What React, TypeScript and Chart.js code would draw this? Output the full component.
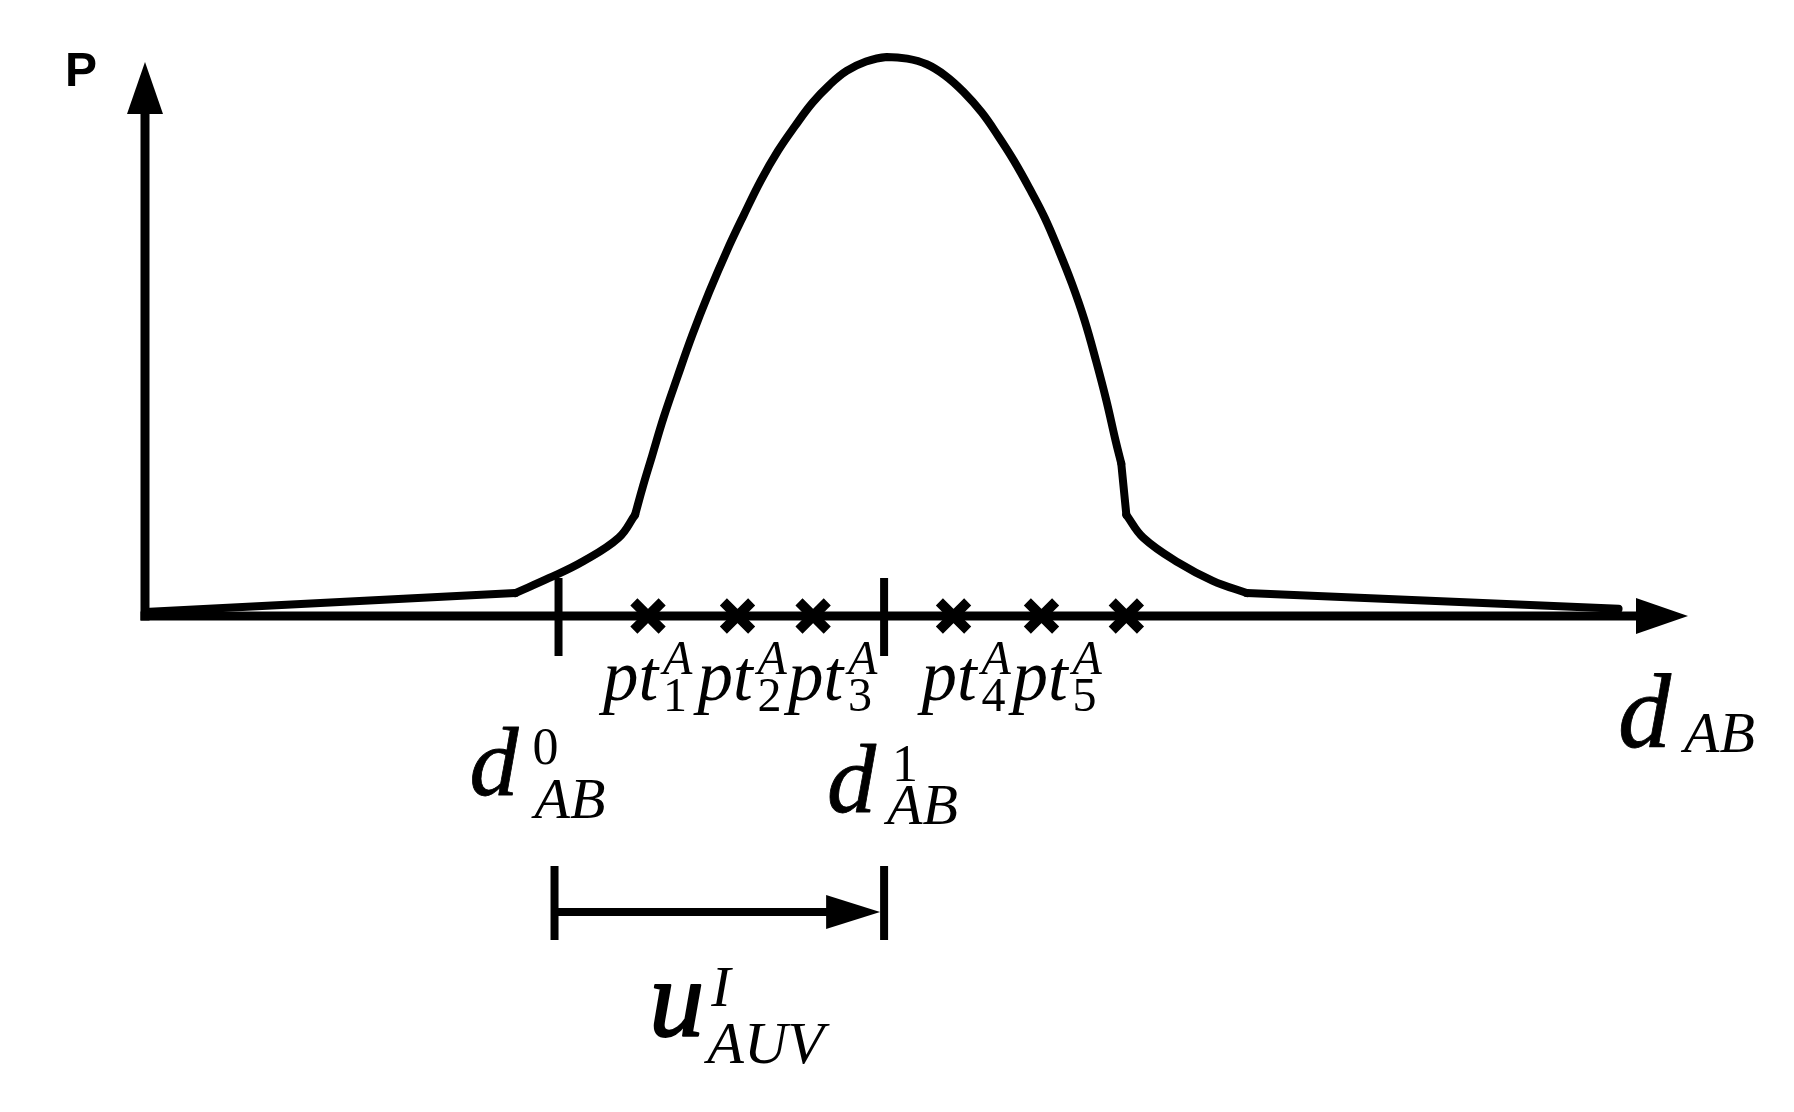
import React, { useEffect, useRef } from "react";
import { Chart, registerables } from "chart.js";

Chart.register(...registerables);

// distance d_AB (arbitrary units, axis origin = 0, arrow tip = 100)
const curveX = [0, 24.0, 26.2, 28.4, 30.7, 31.76, 32.27, 32.87, 33.61, 34.5, 35.46, 36.57, 37.69, 38.8, 39.91, 41.02, 42.14, 43.25, 44.36, 45.47, 46.73, 48.07, 49.4, 50.66, 51.85, 53.03, 54.22, 55.26, 56.3, 57.34, 58.3, 59.19, 60.08, 60.89, 61.63, 62.3, 62.9, 63.27, 63.6, 64.7, 67.0, 69.2, 71.4, 95.5];
// probability P (normalised, peak = 1)
const curveP = [0.007, 0.041, 0.068, 0.098, 0.14, 0.181, 0.232, 0.287, 0.355, 0.427, 0.502, 0.58, 0.652, 0.717, 0.779, 0.832, 0.877, 0.918, 0.95, 0.975, 0.992, 1.0, 0.997, 0.987, 0.967, 0.938, 0.901, 0.86, 0.815, 0.764, 0.713, 0.656, 0.594, 0.529, 0.457, 0.386, 0.314, 0.273, 0.181, 0.14, 0.095, 0.063, 0.041, 0.013];
// pieces of the curve: [first index, last index, tension]
const curvePieces = [
  [0, 1, 0],
  [1, 5, 0.4],
  [5, 37, 0.4],
  [37, 38, 0],
  [38, 42, 0.4],
  [42, 43, 0],
];
// sample points pt^A along d_AB
const sampleX = [32.6, 38.4, 43.3, 52.4, 58.1, 63.6];
const sampleLabels = ["1", "2", "3", "4", "5"];
// thresholds d^0_AB and d^1_AB
const thresholdX = [26.8, 47.9];
const thresholdLabels = ["0", "1"];

const BLACK = "#000000";
const SERIF = '"Liberation Serif", "Times New Roman", serif';

function arrowHead(ctx: CanvasRenderingContext2D, tx: number, ty: number, dir: "up" | "right", len: number, half: number) {
  ctx.beginPath();
  if (dir === "up") {
    ctx.moveTo(tx, ty);
    ctx.lineTo(tx - half, ty + len);
    ctx.lineTo(tx + half, ty + len);
  } else {
    ctx.moveTo(tx, ty);
    ctx.lineTo(tx - len, ty - half);
    ctx.lineTo(tx - len, ty + half);
  }
  ctx.closePath();
  ctx.fill();
}

function line(ctx: CanvasRenderingContext2D, x1: number, y1: number, x2: number, y2: number, w: number) {
  ctx.lineWidth = w;
  ctx.beginPath();
  ctx.moveTo(x1, y1);
  ctx.lineTo(x2, y2);
  ctx.stroke();
}

function txt(ctx: CanvasRenderingContext2D, s: string, x: number, y: number, font: string, heavy = 0) {
  ctx.font = font;
  ctx.fillText(s, x, y);
  if (heavy > 0) {
    ctx.lineWidth = heavy;
    ctx.lineJoin = "round";
    ctx.strokeText(s, x, y);
  }
}

const diagramPlugin = {
  id: "diagram",
  beforeDatasetsDraw(chart: any) {
    const ctx: CanvasRenderingContext2D = chart.ctx;
    const xs = chart.scales.x;
    const ys = chart.scales.y;
    const x0 = xs.getPixelForValue(0);
    const xEnd = xs.getPixelForValue(100);
    const y0 = ys.getPixelForValue(0);
    const yTop = ys.getPixelForValue(1) + 5;
    ctx.save();
    ctx.strokeStyle = BLACK;
    ctx.fillStyle = BLACK;
    ctx.lineCap = "butt";
    // axes
    line(ctx, x0 - 4.5, y0, xEnd - 50, y0, 9);
    line(ctx, x0, y0 + 4.5, x0, yTop + 50, 9);
    arrowHead(ctx, xEnd, y0, "right", 52, 18);
    arrowHead(ctx, x0, yTop, "up", 52, 18);
    // threshold ticks
    thresholdX.forEach((v) => {
      const px = xs.getPixelForValue(v);
      line(ctx, px, y0 - 38, px, y0 + 40, 8);
    });
    // bracket u^I_AUV
    const bx0 = xs.getPixelForValue(thresholdX[0]) - 4;
    const bx1 = xs.getPixelForValue(thresholdX[1]);
    const by = y0 + 296;
    line(ctx, bx0, by - 46, bx0, by + 28, 8);
    line(ctx, bx1, by - 46, bx1, by + 28, 8);
    line(ctx, bx0, by, bx1 - 50, by, 8);
    arrowHead(ctx, bx1 - 4, by, "right", 54, 17);
    ctx.restore();
  },
  afterDraw(chart: any) {
    const ctx: CanvasRenderingContext2D = chart.ctx;
    const xs = chart.scales.x;
    const ys = chart.scales.y;
    const x0 = xs.getPixelForValue(0);
    const xEnd = xs.getPixelForValue(100);
    const y0 = ys.getPixelForValue(0);
    const yTop = ys.getPixelForValue(1) + 5;
    ctx.save();
    ctx.fillStyle = BLACK;
    ctx.strokeStyle = BLACK;
    ctx.textBaseline = "alphabetic";
    ctx.textAlign = "left";
    // P axis label
    txt(ctx, "P", x0 - 80, yTop + 24, 'bold 48px "Liberation Sans", Arial, sans-serif');
    // d_AB axis label
    txt(ctx, "d", xEnd - 70, y0 + 131, `italic 106px ${SERIF}`, 0.8);
    txt(ctx, "AB", xEnd - 4, y0 + 136, `italic 58px ${SERIF}`);
    // sample labels pt_i^A
    const dxs = [-45, -40, -25, -32, -29];
    sampleLabels.forEach((lab, i) => {
      const px = xs.getPixelForValue(sampleX[i]) + dxs[i];
      txt(ctx, "pt", px, y0 + 84, `italic 71px ${SERIF}`);
      txt(ctx, "A", px + 60, y0 + 58, `italic 48px ${SERIF}`);
      txt(ctx, lab, px + 60, y0 + 95, `48px ${SERIF}`);
    });
    // threshold labels
    const dOff = [
      { d: -89, s: -26, a: -24, bd: 179, bs: 148, ba: 202 },
      { d: -57, s: 8, a: 3, bd: 196, bs: 165, ba: 208 },
    ];
    thresholdX.forEach((v, i) => {
      const px = xs.getPixelForValue(v);
      const o = dOff[i];
      txt(ctx, "d", px + o.d, y0 + o.bd, `italic 98px ${SERIF}`, 0.8);
      txt(ctx, thresholdLabels[i], px + o.s, y0 + o.bs, `52px ${SERIF}`);
      txt(ctx, "AB", px + o.a, y0 + o.ba, `italic 58px ${SERIF}`);
    });
    // u^I_AUV
    const cx = (xs.getPixelForValue(thresholdX[0]) + xs.getPixelForValue(thresholdX[1])) / 2;
    txt(ctx, "u", cx - 72, y0 + 420, `italic 110px ${SERIF}`, 2);
    txt(ctx, "I", cx - 10, y0 + 390, `italic 58px ${SERIF}`);
    txt(ctx, "AUV", cx - 14, y0 + 447, `italic 60px ${SERIF}`);
    ctx.restore();
  },
};

export default function App() {
  const ref = useRef<HTMLCanvasElement | null>(null);
  useEffect(() => {
    if (!ref.current) return;
    const curveSets = curvePieces.map(([a, b, t]) => ({
      label: "P(d_AB)",
      data: curveX.slice(a, b + 1).map((x, i) => ({ x, y: curveP[a + i] })),
      showLine: true,
      borderColor: BLACK,
      borderWidth: 8,
      borderCapStyle: "round",
      borderJoinStyle: "round",
      pointRadius: 0,
      tension: t,
      clip: false,
    }));
    const chart = new Chart(ref.current, {
      type: "scatter",
      data: {
        datasets: [
          ...(curveSets as any[]),
          {
            label: "pt^A",
            data: sampleX.map((x) => ({ x, y: 0 })),
            showLine: false,
            pointStyle: "crossRot",
            pointRadius: 20,
            borderWidth: 10,
            borderColor: BLACK,
            backgroundColor: BLACK,
            clip: false,
          } as any,
        ],
      },
      options: {
        responsive: false,
        animation: false,
        events: [],
        layout: { padding: { left: 145, right: 106, top: 57, bottom: 496 } },
        scales: {
          x: { type: "linear", min: 0, max: 100, display: false },
          y: { type: "linear", min: 0, max: 1, display: false },
        },
        plugins: { legend: { display: false }, tooltip: { enabled: false } },
      },
      plugins: [diagramPlugin],
    });
    return () => chart.destroy();
  }, []);
  return (
    <div style={{ position: "fixed", left: 0, top: 0, width: 1794, height: 1112, background: "#fff" }}>
      <canvas ref={ref} width={1794} height={1112} style={{ display: "block" }} />
    </div>
  );
}
